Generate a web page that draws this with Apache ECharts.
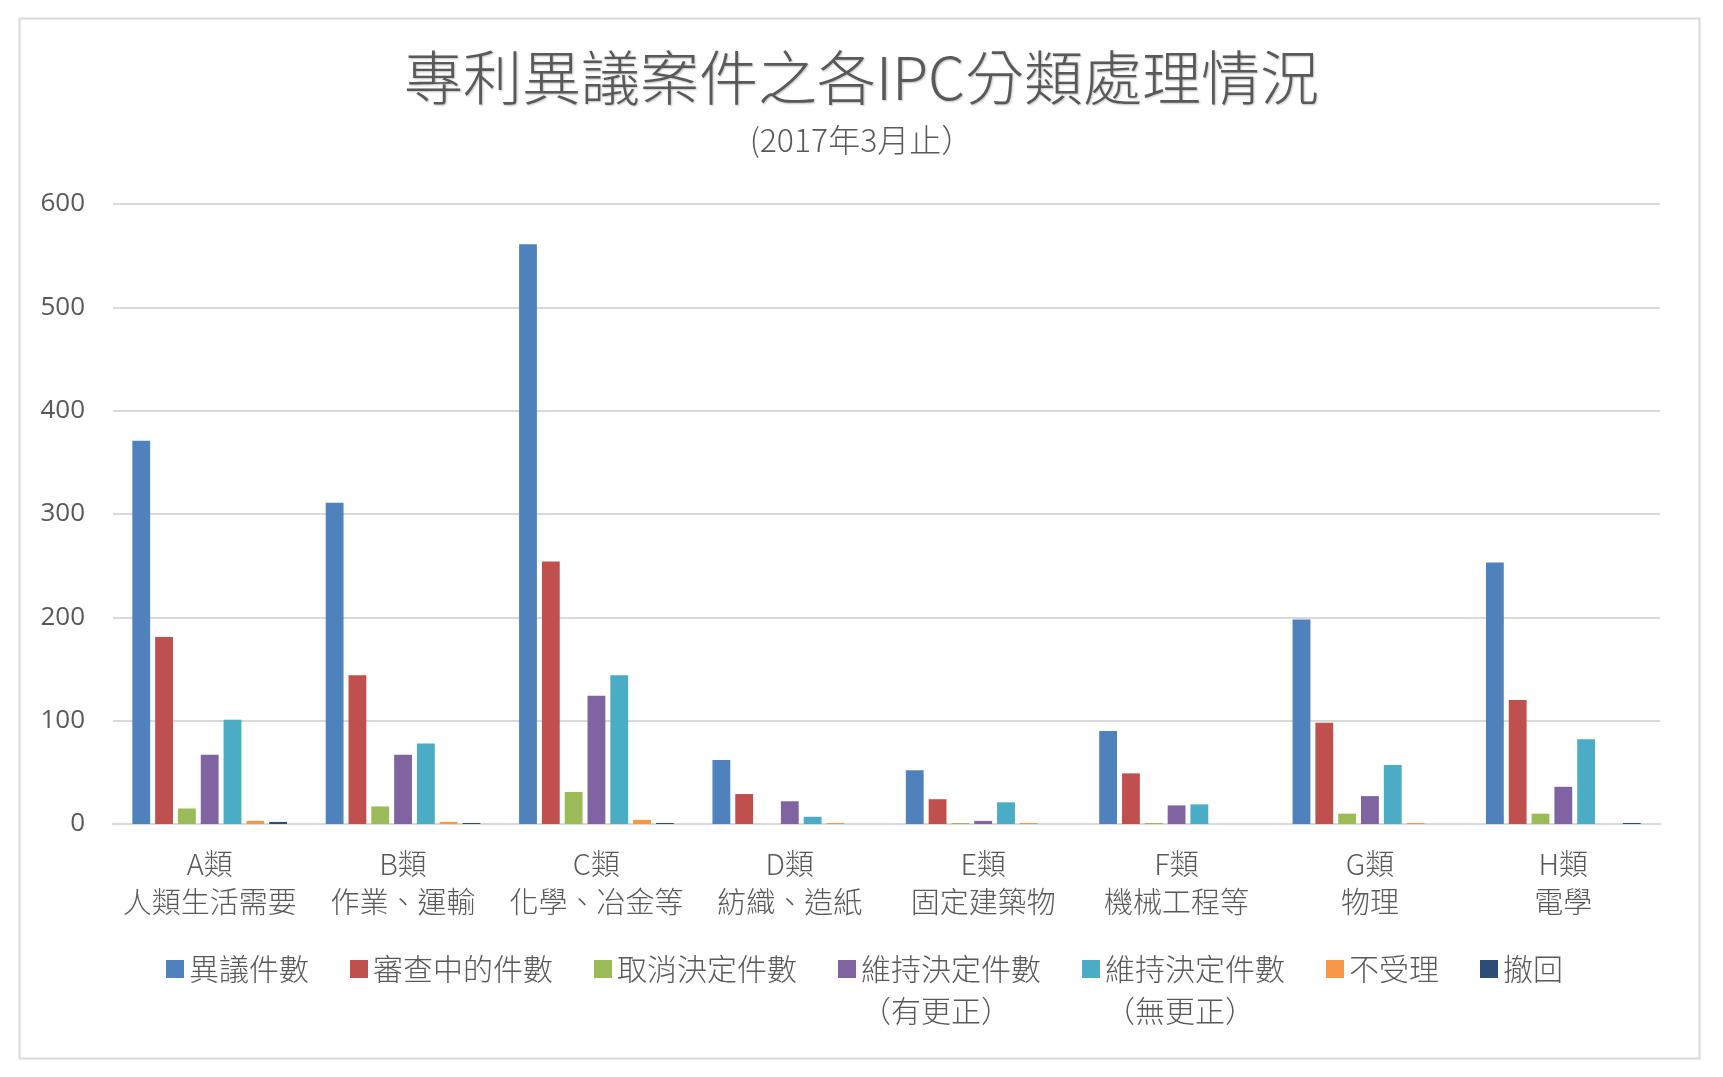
<!DOCTYPE html>
<html>
<head>
<meta charset="utf-8">
<script src="https://cdn.jsdelivr.net/npm/echarts@6/dist/echarts.min.js"></script>
<style>
html,body{margin:0;padding:0;background:#fff;}
#chart{width:1723px;height:1077px;}
</style>
</head>
<body>
<div id="chart"></div>
<script>
const categories = ['A類\n人類生活需要','B類\n作業、運輸','C類\n化學、冶金等','D類\n紡織、造紙','E類\n固定建築物','F類\n機械工程等','G類\n物理','H類\n電學'];
const seriesNames = ['異議件數','審查中的件數','取消決定件數','維持決定件數\n（有更正）','維持決定件數\n（無更正）','不受理','撤回'];
const objections = [371, 311, 561, 62, 52, 90, 198, 253];
const underReview = [181, 144, 254, 29, 24, 49, 98, 120];
const revoked = [15, 17, 31, 0, 1, 1, 10, 10];
const maintainedAmended = [67, 67, 124, 22, 3, 18, 27, 36];
const maintainedUnamended = [101, 78, 144, 7, 21, 19, 57, 82];
const notAccepted = [3, 2, 4, 1, 1, 0, 1, 0];
const withdrawn = [2, 1, 1, 0, 0, 0, 0, 1];
const yTicks = [0, 100, 200, 300, 400, 500, 600];

const colors = ['#4F81BD','#C0504D','#9BBB59','#8064A2','#4BACC6','#F79646','#2C4D75'];
const allData = [objections, underReview, revoked, maintainedAmended, maintainedUnamended, notAccepted, withdrawn];
const FONT = "'Noto Sans CJK TC', 'Noto Sans', sans-serif";
const TXT = '#595959';

const chart = echarts.init(document.getElementById('chart'), null, {renderer: 'canvas'});
const option = {
  backgroundColor: '#ffffff',
  color: colors,
  animation: false,
  graphic: [{
    type: 'rect', left: 17, top: 16, z: -10,
    shape: {width: 1680, height: 1040},
    style: {fill: 'none', stroke: '#D9D9D9', lineWidth: 2}
  }],
  title: [{
    text: '專利異議案件之各IPC分類處理情況',
    left: 'center', top: 42, padding: 0,
    textStyle: {fontFamily: FONT, fontSize: 59, fontWeight: 300, color: TXT, lineHeight: 72,
      textShadowColor: 'rgba(0,0,0,0.25)', textShadowBlur: 2, textShadowOffsetX: 1, textShadowOffsetY: 1}
  }, {
    text: '(2017年3月止）',
    left: 'center', top: 121, padding: 0,
    textStyle: {fontFamily: FONT, fontSize: 32, fontWeight: 300, color: TXT, lineHeight: 38}
  }],
  legend: {
    left: 166, top: 906, padding: 0,
    itemWidth: 18, itemHeight: 18, itemGap: 41,
    icon: 'rect',
    formatter: name => (name.indexOf('\n') >= 0 ? '\n' + name : name),
    textStyle: {fontFamily: FONT, fontSize: 30, fontWeight: 300, color: TXT, lineHeight: 42},
    data: seriesNames
  },
  grid: {left: 113, right: 63, top: 204, bottom: 253, containLabel: false},
  xAxis: {
    type: 'category',
    data: categories,
    axisLine: {show: true, lineStyle: {color: '#D9D9D9', width: 2}},
    axisTick: {show: false},
    axisLabel: {fontFamily: FONT, fontSize: 29, fontWeight: 300, color: TXT, lineHeight: 38, margin: 21, interval: 0}
  },
  yAxis: {
    type: 'value', min: yTicks[0], max: yTicks[yTicks.length - 1], interval: 100,
    axisLine: {show: false},
    axisTick: {show: false},
    splitLine: {lineStyle: {color: '#D9D9D9', width: 2}},
    axisLabel: {fontFamily: "'Open Sans', sans-serif", fontSize: 26, color: TXT, margin: 28}
  },
  series: seriesNames.map((n, i) => ({
    name: n, type: 'bar', data: allData[i],
    barGap: '28%', barCategoryGap: '20%',
    itemStyle: {color: colors[i]}
  }))
};
chart.setOption(option);
</script>
</body>
</html>
